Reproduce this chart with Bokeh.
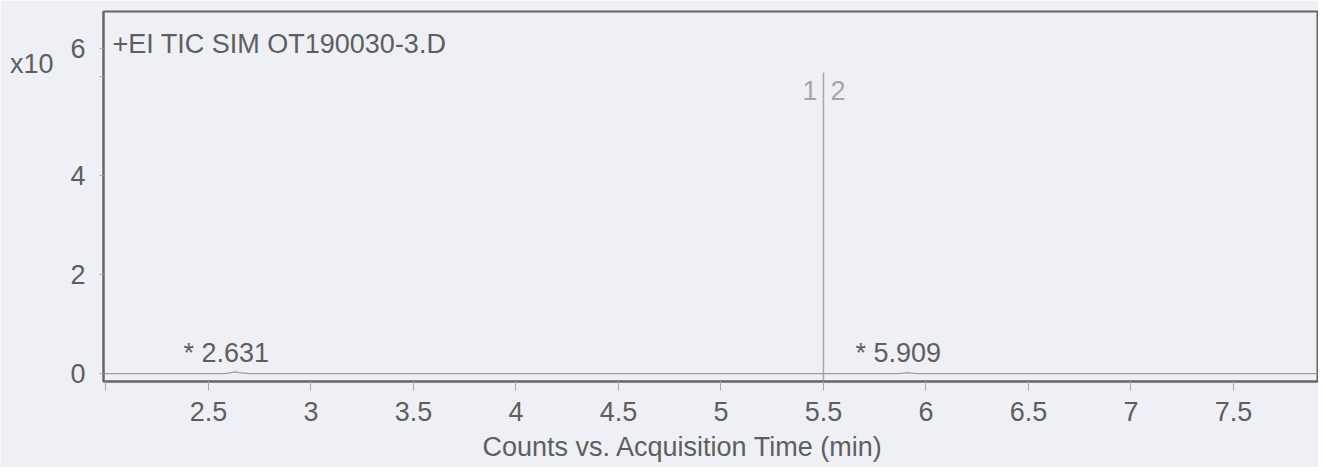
from bokeh.plotting import figure
from bokeh.models import Range1d, FixedTicker, Label, ColumnDataSource, Title, LinearAxis
from bokeh.core.properties import value
from bokeh.embed import file_html
from bokeh.resources import INLINE

# ---- data (counts in units of 10^6) ----
time_min = [1.99, 2.58, 2.61, 2.631, 2.65, 2.70, 5.86, 5.89, 5.909, 5.93, 5.96, 7.92]
counts_1e6 = [0.0, 0.0, 0.02, 0.035, 0.02, 0.0, 0.0, 0.01, 0.02, 0.01, 0.0, 0.0]
peak_times = [2.631, 5.909]
peak_labels = ["* 2.631", "* 5.909"]
x_ticks = [2.0, 2.5, 3.0, 3.5, 4.0, 4.5, 5.0, 5.5, 6.0, 6.5, 7.0, 7.5]
x_tick_labels = ["", "2.5", "3", "3.5", "4", "4.5", "5", "5.5", "6", "6.5", "7", "7.5"]
y_ticks = [0, 2, 4, 6, 6.57]
y_tick_labels = ["0", "2", "4", "", "6"]
segment_time = 5.5
segment_names = ["1", "2"]
title_text = "+EI TIC SIM OT190030-3.D"
x_title = "Counts vs. Acquisition Time (min)"
multiplier = "x10"

FONT = "Liberation Sans"
TXT = "#5e5e5e"
BG = "#eff0f6"

x0, x1 = 1.988, 7.910
y0, y1 = -0.16, 7.31

p = figure(width=1318, height=467, output_backend="svg", toolbar_location=None,
           x_range=Range1d(x0, x1), y_range=Range1d(y0, y1),
           min_border_left=103, min_border_right=1, min_border_top=11, min_border_bottom=86)
p.background_fill_color = BG
p.border_fill_color = BG
p.outline_line_color = "#6a645e"
p.outline_line_width = 2
p.grid.visible = False

# axes
p.xaxis.ticker = FixedTicker(ticks=x_ticks)
p.xaxis.major_label_overrides = {t: l for t, l in zip(x_ticks, x_tick_labels)}
p.yaxis.ticker = FixedTicker(ticks=y_ticks)
p.yaxis.major_label_overrides = {t: l for t, l in zip(y_ticks, y_tick_labels)}
for ax in (p.xaxis, p.yaxis):
    ax.axis_line_color = "#6a645e"
    ax.axis_line_width = 2
    ax.major_tick_line_color = "#a8a8a8"
    ax.major_tick_in = 0
    ax.minor_tick_line_color = None
    ax.major_label_text_font = FONT
    ax.major_label_text_font_size = "27px"
    ax.major_label_text_color = TXT
p.xaxis.major_tick_out = 9
p.xaxis.major_label_standoff = 11
p.yaxis.major_tick_out = 4
p.yaxis.major_label_standoff = 14

# multiplier "x10" as an extra (tick-less) left axis
mult_axis = LinearAxis(ticker=FixedTicker(ticks=[6.26]),
                       major_label_overrides={6.26: multiplier},
                       axis_line_color=None, major_tick_line_color=None,
                       minor_tick_line_color=None, major_tick_out=0, major_tick_in=0,
                       major_label_standoff=14, major_label_text_font=FONT,
                       major_label_text_font_size="27px", major_label_text_color=TXT)
p.add_layout(mult_axis, "left")

# trace
src = ColumnDataSource(dict(t=time_min, c=counts_1e6))
p.line("t", "c", source=src, line_color="#a39c96", line_width=1.3)

# segment boundary line
p.segment(x0=[segment_time], y0=[y0], x1=[segment_time], y1=[6.08],
          line_color="#a8a8a8", line_width=1.5)
p.text(x=[segment_time, segment_time], y=[5.72, 5.72], text=segment_names,
       text_align=["right", "left"], x_offset=[-6, 7], text_baseline="middle",
       text_font=value(FONT), text_font_size="27px", text_color="#a6a6a6")

# peak labels
p.text(x=peak_times, y=[0.42, 0.42], text=peak_labels, text_align="center",
       x_offset=-9, text_baseline="middle",
       text_font=value(FONT), text_font_size="27px", text_color=TXT)

# title inside frame
p.add_layout(Label(x=x0, y=6.65, text=title_text, x_offset=9, text_baseline="middle",
                   text_font=FONT, text_font_size="27px", text_color=TXT))
# x axis title
p.add_layout(Title(text=x_title, align="left", offset=379, text_font=FONT,
                   text_font_size="27px", text_color=TXT, text_font_style="normal",
                   standoff=12), "below")

open("out.html", "w").write(file_html(p, INLINE))
